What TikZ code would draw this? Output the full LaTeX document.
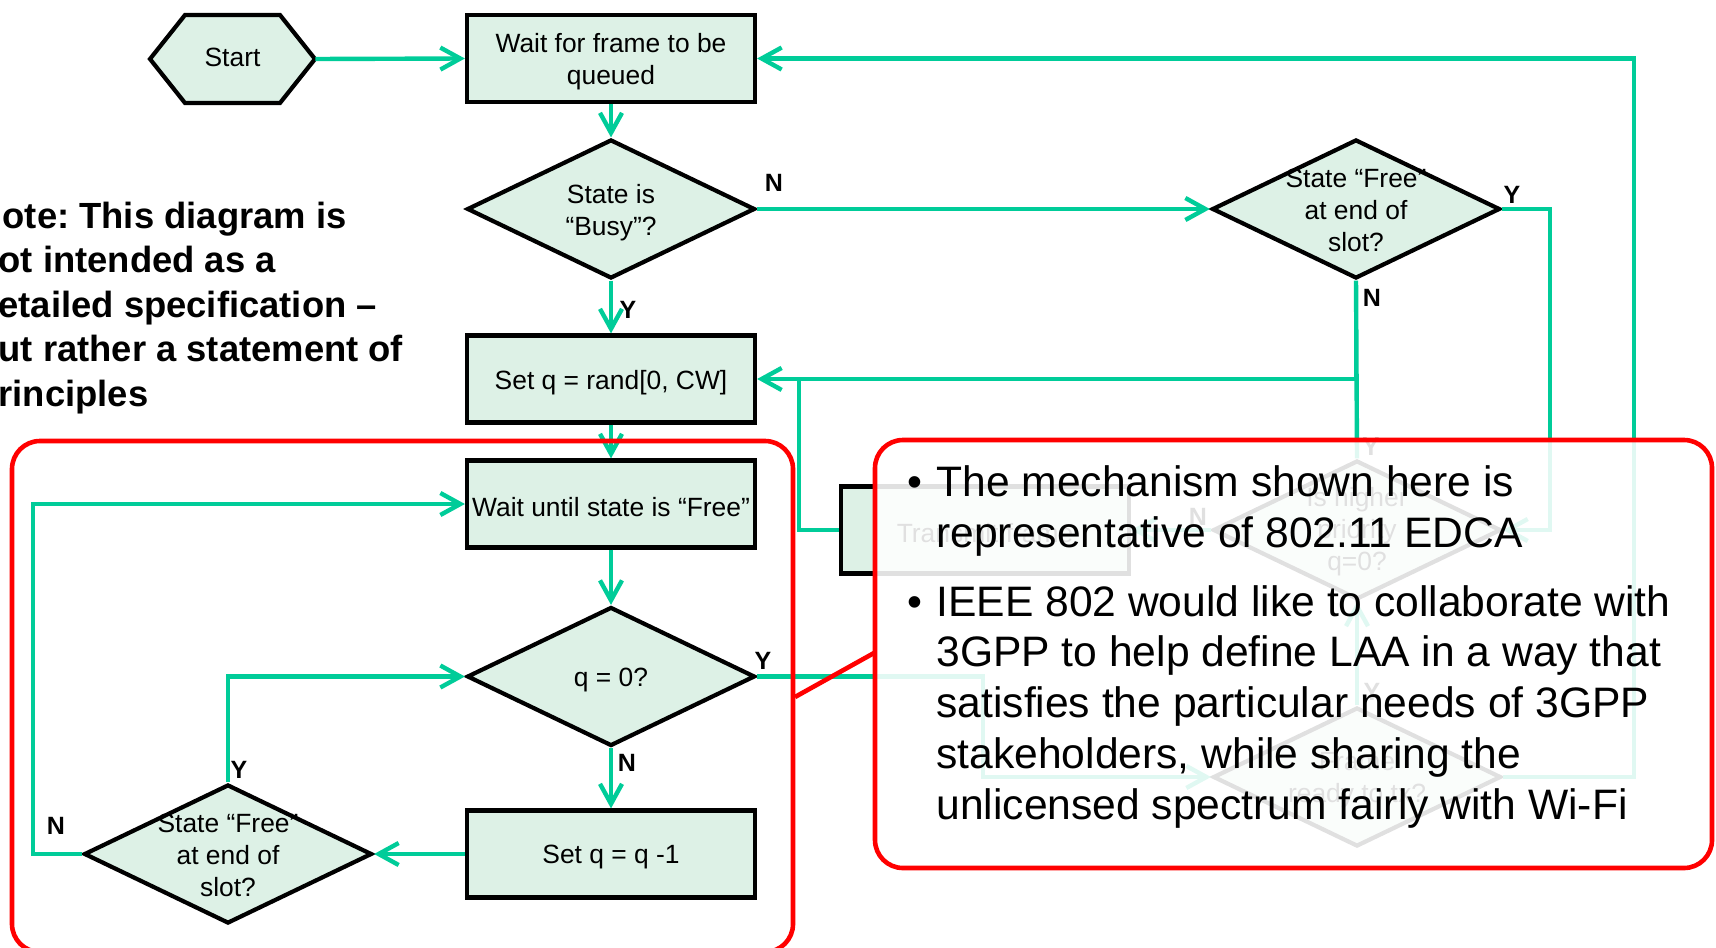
\documentclass[tikz,border=0pt]{standalone}
\usepackage{fontspec}
\setmainfont{Liberation Sans}
\usetikzlibrary{shapes.geometric,arrows.meta,calc}

\definecolor{mint}{RGB}{221,241,230}
\definecolor{flowgreen}{RGB}{0,204,153}
\definecolor{alertred}{RGB}{255,0,0}

\newcommand{\bulletmark}{\leavevmode\llap{•\hspace{7pt}}}

\begin{document}
\frenchspacing
\begin{tikzpicture}[x=0.5pt,y=-0.5pt,
  proc/.style={draw=black, line width=2.1pt, fill=mint, minimum width=144pt,
    minimum height=43.5pt, inner sep=0pt},
  decision/.style={diamond, draw=black, line width=2.1pt, fill=mint,
    minimum width=144pt, minimum height=69.5pt, inner sep=0pt},
  ptxt/.style={align=center, inner sep=0pt, yshift=-1.7pt,
    font=\fontsize{13.2pt}{15.9pt}\selectfont},
  ptxt3/.style={ptxt, yshift=1pt},
  flow/.style={draw=flowgreen, line width=2.2pt},
  tip/.style={-{Straight Barb[length=10pt,width=11pt]}},
  yn/.style={inner sep=0pt, font=\fontsize{12.5pt}{15pt}\selectfont\bfseries},
  redline/.style={draw=alertred, line width=2.3pt, rounded corners=14pt},
]
\useasboundingbox (0,0) rectangle (1716,947);
\clip (0,0) rectangle (1716,947);

% ---------- start terminal ----------
\filldraw[draw=black, line width=2.1pt, fill=mint]
  (150,59) -- (185,15) -- (280,15) -- (315,59) -- (280,103) -- (185,103) -- cycle;
\node[inner sep=0pt, minimum width=82.5pt, minimum height=44pt,
  label={[ptxt, yshift=2.3pt]center:Start}] (start) at (232.5,59) {};

% ---------- main column ----------
\node[proc, label={[ptxt]center:Wait for frame to be\\queued}] (wf) at (611,58.5) {};
\node[decision, label={[ptxt]center:State is\\“Busy”?}] (busy) at (611,209) {};
\node[proc, label={[ptxt]center:Set q = rand[0, CW]}] (setq) at (611,379) {};
\node[proc, label={[ptxt]center:Wait until state is “Free”}] (wfree) at (611,504) {};
\node[decision, label={[ptxt]center:q = 0?}] (q0) at (611,676.5) {};
\node[proc, label={[ptxt]center:Set q = q -1}] (dec) at (611,854) {};
\node[decision, label={[ptxt3]center:State “Free”\\at end of\\slot?}] (fr2) at (228,854) {};

% ---------- right-hand branch ----------
\node[decision, label={[ptxt3]center:State “Free”\\at end of\\slot?}] (fr1) at (1356,209) {};
\node[proc, label={[ptxt]center:Transmit frame}] (tx) at (985,530) {};
\node[decision, label={[ptxt3]center:Is higher\\priority\\q=0?}] (hp) at (1357,530) {};
\node[decision, label={[ptxt]center:Frame\\ready to tx?}] (rd) at (1357,777) {};

% free ends of connectors
\coordinate (lp) at (33,504);
\coordinate (jx) at (799,379);
\coordinate (rY) at (1550,209);
\coordinate (qy) at (983,777);
\coordinate (rt) at (1634,400);

% ---------- connectors ----------
\draw[flow,tip] (start.east) -- (wf.west);
\draw[flow,tip] (wf.south) -- (busy.north);
\draw[flow,tip] (busy.east) -- (fr1.west);
\draw[flow,tip] (busy.south) -- (setq.north);
\draw[flow,tip] (setq.south) -- (wfree.north);
\draw[flow,tip] (wfree.south) -- (q0.north);
\draw[flow,tip] (q0.south) -- (dec.north);
\draw[flow,tip] (dec.west) -- (fr2.east);
\draw[flow,tip] (fr2.north) |- (q0.west);
\draw[flow,tip] (fr2.west) -| (lp) -- (wfree.west);
\draw[flow,tip] (fr1.south) |- (setq.east);
\draw[flow] (hp.north) -- (fr1.south);
\draw[flow] (tx.west) -| (jx);
\draw[flow,tip] (fr1.east) -- (rY) |- (hp.east);
\draw[flow,tip] (q0.east) -| (qy) -- (rd.west);
\draw[flow,tip] (rd.north) -- (hp.south);
\draw[flow,tip] (hp.west) -- (tx.east);
\draw[flow,tip] (rd.east) -| (rt) |- (wf.east);

% ---------- branch labels ----------
\node[yn] (nBusy) at (774,183) {N};
\node[yn] (yBusy) at (628,310) {Y};
\node[yn] (nFr1)  at (1372,298) {N};
\node[yn] (yFr1)  at (1512,195) {Y};
\node[yn] (yQ0)   at (763,661) {Y};
\node[yn] (nQ0)   at (627,763) {N};
\node[yn] (yFr2)  at (239,770) {Y};
\node[yn] (nFr2)  at (56,826) {N};
\node[yn] (nHp)   at (1198,517) {N};
\node[yn] (yHp)   at (1371,447) {Y};
\node[yn] (yRd)   at (1372,692) {Y};

% ---------- highlighted backoff loop ----------
\draw[redline] (12,441) rectangle (793,952);

% ---------- callout ----------
\draw[redline, fill=white, fill opacity=0.88] (875,440) rectangle (1712,868);
\coordinate (pa) at (795,697);
\coordinate (pb) at (874,653);
\draw[draw=alertred, line width=2.3pt] (pa) -- (pb);

\node[anchor=base west, inner sep=0pt, font=\fontsize{21.3pt}{25.8pt}\selectfont]
  (pt1) at (936,496) {\parbox[t]{420pt}{\bulletmark The mechanism shown here is\\representative of 802.11 EDCA}};
\node[anchor=base west, inner sep=0pt, font=\fontsize{21.3pt}{25.4pt}\selectfont]
  (pt2) at (936,616) {\parbox[t]{420pt}{\bulletmark IEEE 802 would like to collaborate with\\3GPP to help define LAA in a way that\\satisfies the particular needs of 3GPP\\stakeholders, while sharing the\\unlicensed spectrum fairly with Wi-Fi}};

% ---------- side note ----------
\node[anchor=base west, inner sep=0pt, font=\fontsize{18.2pt}{22.3pt}\selectfont\bfseries]
  (disclaimer) at (-24,228) {\parbox[t]{280pt}{Note: This diagram is\\not intended as a\\detailed specification –\\but rather a statement of\\principles}};
\end{tikzpicture}
\end{document}
